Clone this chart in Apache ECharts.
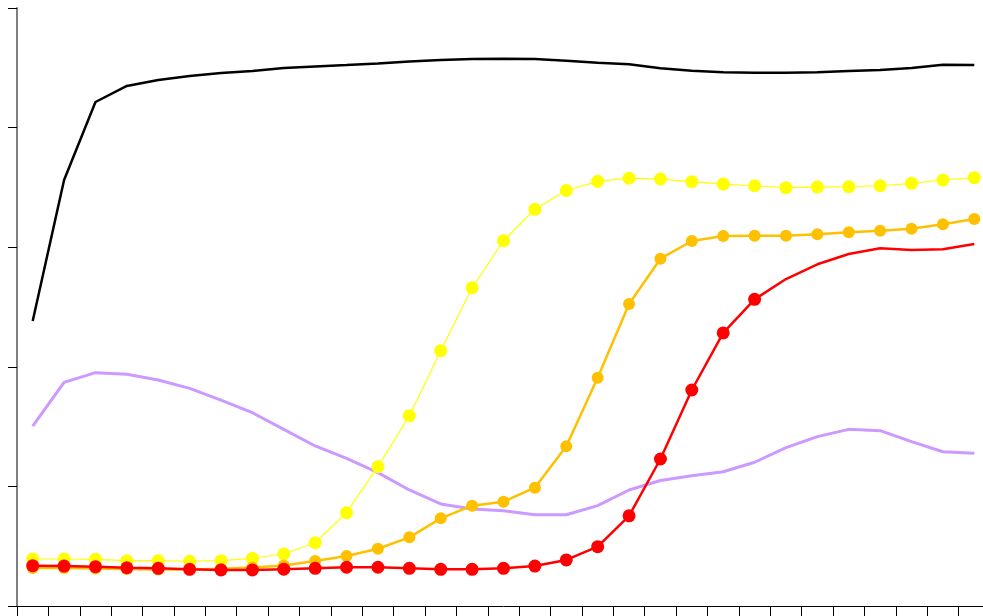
<!DOCTYPE html>
<html>
<head>
<meta charset="utf-8">
<script src="https://cdn.jsdelivr.net/npm/echarts@6/dist/echarts.min.js"></script>
<style>html,body{margin:0;padding:0;background:#fff;overflow:hidden;width:983px;height:616px;}#c{width:990px;height:616px;}</style>
</head>
<body>
<div id="c"></div>
<script>
var categories = [];
for (var k = 1; k <= 31; k++) categories.push(String(k));

var blackSeries = [23.83,35.62,42.14,43.48,43.98,44.31,44.57,44.73,44.98,45.11,45.23,45.36,45.53,45.65,45.74,45.76,45.74,45.59,45.43,45.29,44.96,44.76,44.62,44.59,44.59,44.62,44.73,44.82,44.98,45.26,45.23];
var purpleSeries = [15.05,18.70,19.51,19.37,18.90,18.20,17.22,16.16,14.77,13.38,12.35,11.15,9.70,8.53,8.11,7.97,7.63,7.63,8.39,9.70,10.49,10.89,11.23,12.02,13.24,14.16,14.77,14.66,13.74,12.90,12.77];
var yellowSeries = [3.93,3.93,3.90,3.79,3.79,3.74,3.79,3.99,4.35,5.29,7.80,11.65,15.91,21.35,26.61,30.54,33.17,34.74,35.51,35.77,35.70,35.48,35.28,35.14,34.98,35.03,35.06,35.14,35.34,35.62,35.81];
var orangeSeries = [3.18,3.18,3.14,3.09,3.05,3.05,3.12,3.22,3.39,3.76,4.18,4.79,5.74,7.33,8.39,8.72,9.89,13.35,19.09,25.25,29.04,30.52,30.94,30.96,30.96,31.08,31.25,31.38,31.55,31.91,32.36];
var redSeries = [3.37,3.34,3.29,3.20,3.15,3.07,3.01,3.01,3.08,3.15,3.24,3.24,3.15,3.07,3.07,3.15,3.34,3.85,4.96,7.54,12.29,18.06,22.83,25.64,27.34,28.57,29.43,29.91,29.77,29.82,30.27];
var redMarkerCount = 24;

var redData = redSeries.map(function (v, i) {
  return i < redMarkerCount ? v : { value: v, symbol: 'none' };
});

var chart = echarts.init(document.getElementById('c'), null, { renderer: 'canvas' });
chart.setOption({
  animation: false,
  backgroundColor: '#ffffff',
  grid: { left: 17, top: 8, width: 973, height: 598, containLabel: false },
  xAxis: {
    type: 'category',
    data: categories,
    boundaryGap: true,
    axisLine: { show: true, lineStyle: { color: '#000', width: 1 } },
    axisTick: { show: true, length: 10, inside: false, lineStyle: { color: '#000', width: 1 } },
    axisLabel: { show: false },
    splitLine: { show: false }
  },
  yAxis: {
    type: 'value',
    min: 0, max: 50, interval: 10,
    axisLine: { show: true, lineStyle: { color: '#7f7f7f', width: 2 } },
    axisTick: { show: true, length: 9, inside: false, lineStyle: { color: '#000', width: 1 } },
    axisLabel: { show: false },
    splitLine: { show: false }
  },
  series: [
    { type: 'line', data: blackSeries, showSymbol: false, symbol: 'none',
      lineStyle: { color: '#000000', width: 2.5 }, itemStyle: { color: '#000' }, z: 1 },
    { type: 'line', data: purpleSeries, showSymbol: false, symbol: 'none',
      lineStyle: { color: '#cc99ff', width: 3 }, itemStyle: { color: '#cc99ff' }, z: 2 },
    { type: 'line', data: yellowSeries, symbol: 'circle', symbolSize: 13,
      lineStyle: { color: '#ffff00', width: 1.2 }, itemStyle: { color: '#ffff00' }, z: 3 },
    { type: 'line', data: orangeSeries, symbol: 'circle', symbolSize: 12,
      lineStyle: { color: '#ffc000', width: 2.5 }, itemStyle: { color: '#ffc000' }, z: 4 },
    { type: 'line', data: redData, symbol: 'circle', symbolSize: 13,
      lineStyle: { color: '#ff0000', width: 2.5 }, itemStyle: { color: '#ff0000' }, z: 5 }
  ]
});
</script>
</body>
</html>
